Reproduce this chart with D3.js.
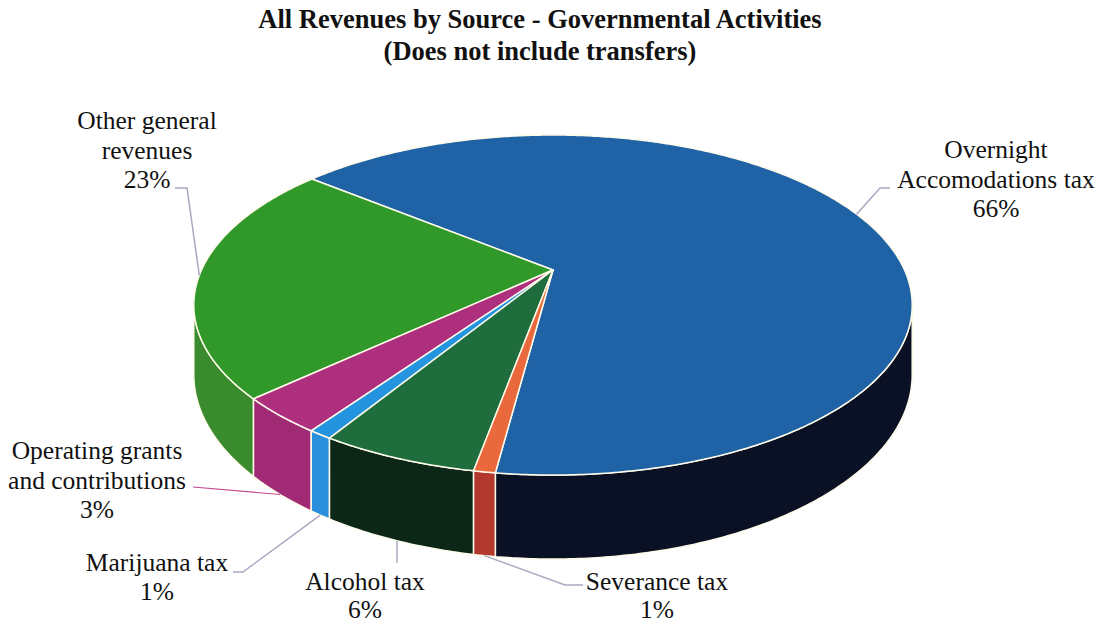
<!DOCTYPE html>
<html>
<head>
<meta charset="utf-8">
<script src="https://cdn.jsdelivr.net/npm/d3@7"></script>
<style>
  body { margin: 0; background: #fff; }
  svg text { font-family: "Liberation Serif", "Times New Roman", serif; fill: #111; }
  .title { font-weight: bold; font-size: 26.5px; }
  .lbl { font-size: 25.5px; }
</style>
</head>
<body>
<div id="chart"></div>
<script>
const width = 1098, height = 624;

// data
const categories = ['Overnight Accomodations tax', 'Other general revenues', 'Operating grants and contributions',
                    'Marijuana tax', 'Alcohol tax', 'Severance tax'];
const shares = [66.2, 22.8, 3.4, 0.9, 5.9, 0.8];
const labelLines = [['Overnight', 'Accomodations tax'], ['Other general', 'revenues'],
                    ['Operating grants', 'and contributions'], ['Marijuana tax'], ['Alcohol tax'], ['Severance tax']];
const topColors = ['#1f62a5', '#30992a', '#ae2f7e', '#2594df', '#1f6d3c', '#e9693c'];
const sideColors = ['#0b1124', '#3a8b2d', '#a12a74', '#2a8fdc', '#0c2617', '#b3392e'];
const titleLines = ['All Revenues by Source - Governmental Activities', '(Does not include transfers)'];

// pie geometry (simple perspective disk)
const cx = 553, cy = 270;
const A = 351.5, B = 162.8, D = 66.7, k = 0.206;
const phi0 = 262.5 * Math.PI / 180;

// label layout: text centre, first baseline, line gap, leader elbow/end
const layout = [
    {x: 996, y: 158, gap: 29.5, elbow: [880, 188], end: [890, 188], onTop: true},
    {x: 147, y: 129, gap: 29.5, elbow: [187, 188], end: [175, 188], onTop: true},
    {x: 97, y: 459, gap: 29.5, elbow: null, end: [193, 487], onTop: false},
    {x: 157, y: 571, gap: 29, elbow: [243, 572], end: [233, 572], onTop: false},
    {x: 365, y: 590, gap: 28, elbow: null, end: [null, 563], onTop: false},
    {x: 657, y: 590, gap: 28, elbow: [565, 585], end: [583, 585], onTop: false}
];

function project(phi, depth) {
    const X = Math.cos(phi), Z = Math.sin(phi);
    const w = 1 + k * Z;
    return [cx + A * X / w, cy - B * Z / w + D * depth / w];
}

function arcPoints(a1, a2, depth) {
    const n = Math.max(2, Math.ceil(Math.abs(a2 - a1) / 0.01));
    const pts = [];
    for (let i = 0; i <= n; i++) pts.push(project(a1 + (a2 - a1) * i / n, depth));
    return pts;
}

const svg = d3.select('#chart').append('svg')
    .attr('width', width)
    .attr('height', height);

const pie = d3.pie().sort(null).value(d => d);
const arcs = pie(shares).map((d, i) => ({
    i: i,
    a1: phi0 + d.startAngle,
    a2: phi0 + d.endAngle
}));

const line = d3.line();

// visible front wall range
const visL = Math.PI + Math.asin(k), visR = 2 * Math.PI - Math.asin(k);

const sides = svg.append('g');
arcs.forEach(d => {
    [0, 2 * Math.PI].forEach(off => {
        const s = Math.max(d.a1, visL + off), e = Math.min(d.a2, visR + off);
        if (e <= s) return;
        const pts = arcPoints(s, e, 0).concat(arcPoints(e, s, 1));
        sides.append('path')
            .attr('d', line(pts) + 'Z')
            .attr('fill', sideColors[d.i])
            .attr('stroke', '#fffbea')
            .attr('stroke-width', 1.5)
            .attr('stroke-linejoin', 'round');
    });
});

const tops = svg.append('g');
arcs.forEach(d => {
    const pts = [[cx, cy]].concat(arcPoints(d.a1, d.a2, 0));
    tops.append('path')
        .attr('d', line(pts) + 'Z')
        .attr('fill', topColors[d.i])
        .attr('stroke', '#fffbea')
        .attr('stroke-width', 1.5)
        .attr('stroke-linejoin', 'round');
});

// leader lines
const leaders = svg.append('g').attr('fill', 'none');
arcs.forEach(d => {
    const L = layout[d.i];
    const mid = (d.a1 + d.a2) / 2;
    const anchor = project(mid, L.onTop ? 0 : 1);
    let pts = [anchor];
    if (L.elbow) pts.push(L.elbow);
    pts.push([L.end[0] === null ? anchor[0] : L.end[0], L.end[1]]);
    leaders.append('path')
        .attr('d', line(pts))
        .attr('stroke', d.i === 2 ? '#c4488f' : '#a9a9c2')
        .attr('stroke-width', d.i === 2 ? 1.2 : 1.5);
});

// labels
const labels = svg.append('g');
arcs.forEach(d => {
    const L = layout[d.i];
    const lines = labelLines[d.i].concat([Math.round(shares[d.i]) + '%']);
    const t = labels.append('text')
        .attr('class', 'lbl')
        .attr('text-anchor', 'middle');
    lines.forEach((s, j) => {
        t.append('tspan')
            .attr('x', L.x)
            .attr('y', L.y + j * L.gap)
            .text(s);
    });
});

// title
const title = svg.append('text')
    .attr('class', 'title')
    .attr('text-anchor', 'middle');
titleLines.forEach((s, j) => {
    title.append('tspan')
        .attr('x', 540)
        .attr('y', 28 + j * 32)
        .text(s);
});
</script>
</body>
</html>
